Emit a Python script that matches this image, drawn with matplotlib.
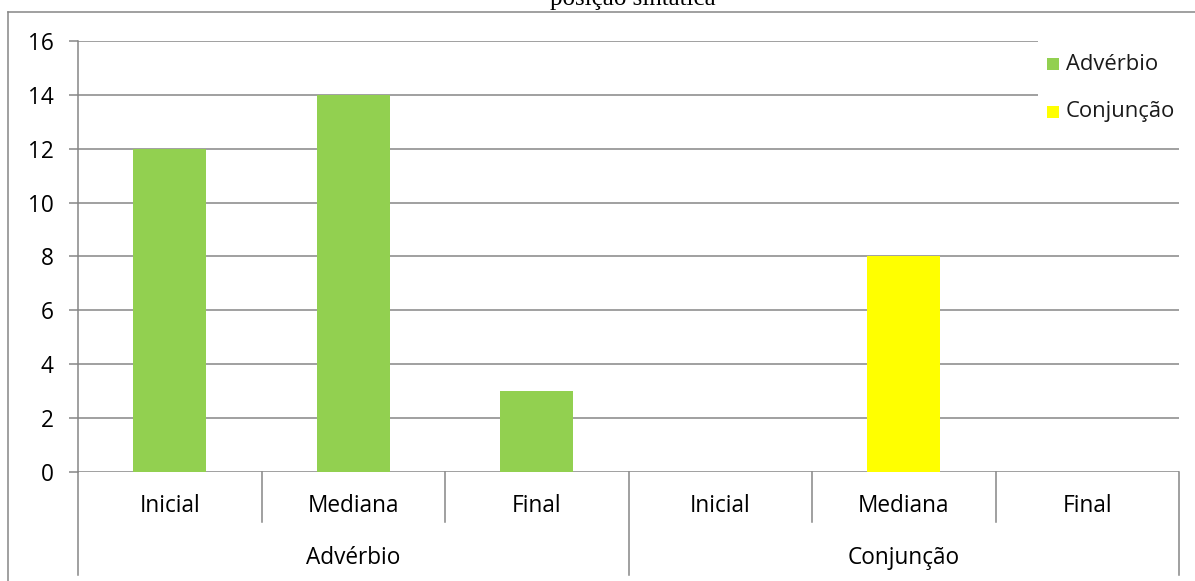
import matplotlib
matplotlib.use("Agg")
import matplotlib.pyplot as plt
from matplotlib.patches import Rectangle
from matplotlib.lines import Line2D

# Data
groups = ["Advérbio", "Conjunção"]
positions = ["Inicial", "Mediana", "Final"]
series_names = ["Advérbio", "Conjunção"]
adverbio_values = [12, 14, 3]
conjuncao_values = [0, 8, 0]
series_colors = ["#92D050", "#FFFF00"]
y_ticks = [0, 2, 4, 6, 8, 10, 12, 14, 16]
title = "posição sintática"

W, H = 1195, 581
DPI = 100
GRID = "#868686"
FONT = "Open Sans"
FS = 16.3

fig = plt.figure(figsize=(W / DPI, H / DPI), dpi=DPI)
fig.patch.set_facecolor("white")

def fx(px):
    return px / W

def fy(py):
    return 1 - py / H

# plot area in pixel coordinates
left_px, right_px, top_px, zero_px = 78, 1179, 41, 471.7
ax = fig.add_axes([fx(left_px), fy(zero_px), fx(right_px - left_px), (zero_px - top_px) / H])

n_pos = len(positions)
x_all = list(range(n_pos * len(groups)))
values = [adverbio_values, conjuncao_values]
for g, (vals, col) in enumerate(zip(values, series_colors)):
    xs = [g * n_pos + i for i in range(n_pos)]
    ax.bar(xs, vals, width=0.4, color=col, zorder=3, linewidth=0)

ax.set_xlim(-0.5, len(x_all) - 0.5)
ax.set_ylim(0, 16)
ax.set_yticks(y_ticks)
ax.set_yticklabels([str(t) for t in y_ticks], fontfamily=FONT, fontsize=FS)
ax.yaxis.grid(True, color=GRID, linewidth=1.1, zorder=0)
ax.set_axisbelow(True)
ax.tick_params(axis="y", length=6.5, width=1.1, color=GRID, pad=11)
ax.set_xticks([])
for s in ["top", "right", "bottom"]:
    ax.spines[s].set_visible(False)
ax.spines["left"].set_color(GRID)
ax.spines["left"].set_linewidth(1.1)

# hierarchical category axis
ax_h = zero_px - top_px
def ay(py):
    return (zero_px - py) / ax_h

trans = ax.get_xaxis_transform()
short_bot = ay(522)
long_bot = ay(575)
for b in range(1, len(x_all)):
    bx = b - 0.5
    bottom = long_bot if b % n_pos == 0 else short_bot
    ax.add_line(Line2D([bx, bx], [0, bottom], transform=trans, color=GRID,
                       linewidth=1.1, clip_on=False))
for bx in [-0.5, len(x_all) - 0.5]:
    ax.add_line(Line2D([bx, bx], [0, long_bot], transform=trans, color=GRID,
                       linewidth=1.1, clip_on=False))

for g, grp in enumerate(groups):
    for i, p in enumerate(positions):
        ax.text(g * n_pos + i, ay(506), p, transform=trans, ha="center", va="center",
                fontfamily=FONT, fontsize=FS, color="black")
    ax.text(g * n_pos + (n_pos - 1) / 2, ay(558), grp, transform=trans, ha="center",
            va="center", fontfamily=FONT, fontsize=FS, color="black")

# legend drawn on a white panel over the gridlines
fig.add_artist(Rectangle((fx(1038), fy(140)), fx(1195 - 1038), (140 - 36) / H,
                         transform=fig.transFigure, facecolor="white",
                         edgecolor="none", zorder=5))
for k, (name, col) in enumerate(zip(series_names, series_colors)):
    cy = 64 + k * 48
    fig.add_artist(Rectangle((fx(1047), fy(cy + 6)), fx(12), 12 / H,
                             transform=fig.transFigure, facecolor=col,
                             edgecolor="none", zorder=6))
    fig.text(fx(1066), fy(cy), name, ha="left", va="center", fontfamily=FONT,
             fontsize=FS - 0.5, color="#1a1a1a", zorder=7)

# outer chart border
fig.add_artist(Line2D([fx(8), fx(8)], [fy(12), 0], transform=fig.transFigure,
                      color=GRID, linewidth=1.1))
fig.add_artist(Line2D([fx(8), 1], [fy(12), fy(12)], transform=fig.transFigure,
                      color=GRID, linewidth=1.1))

# title, sitting above the border
fig.text(fx(633), fy(5), title, ha="center", va="baseline",
         fontfamily="Liberation Serif", fontsize=18, color="black")

fig.savefig("out.png", dpi=DPI, facecolor="white")
